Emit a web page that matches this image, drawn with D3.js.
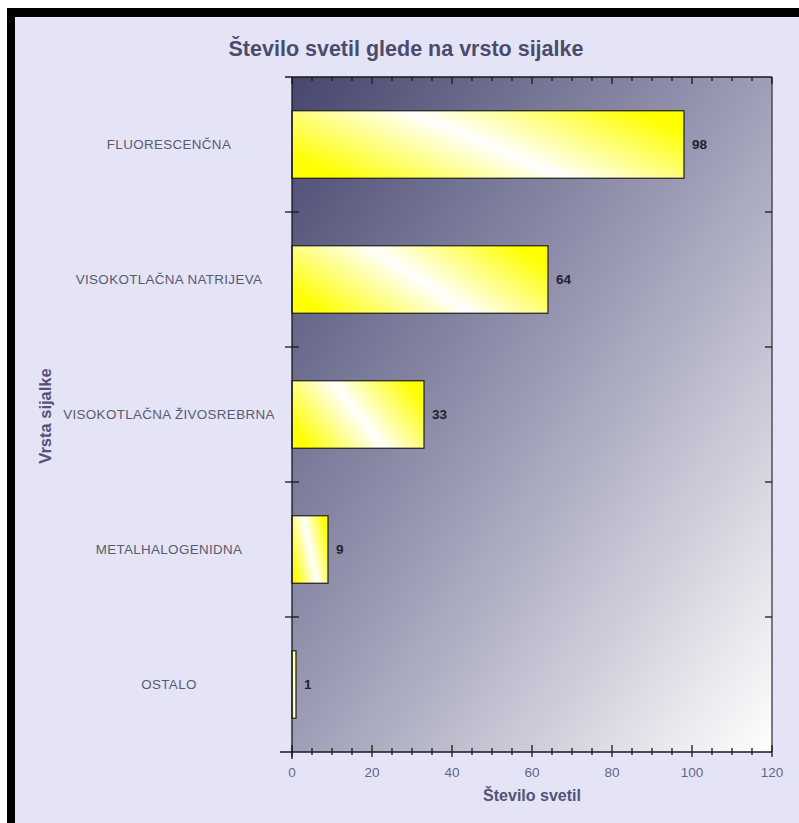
<!DOCTYPE html>
<html>
<head>
<meta charset="utf-8">
<script src="https://cdn.jsdelivr.net/npm/d3@7"></script>
<style>
  html, body { margin: 0; padding: 0; background: #ffffff; }
  svg { display: block; }
  text { font-family: "Liberation Sans", Arial, sans-serif; }
</style>
</head>
<body>
<div id="chart"></div>
<script>
// Lamp types and the number of luminaires of each type
const categories = ["FLUORESCENČNA", "VISOKOTLAČNA NATRIJEVA", "VISOKOTLAČNA ŽIVOSREBRNA", "METALHALOGENIDNA", "OSTALO"];
const values = [98, 64, 33, 9, 1];
const xTickValues = [0, 20, 40, 60, 80, 100, 120];
const titleText = "Število svetil glede na vrsto sijalke";
const xTitle = "Število svetil";
const yTitle = "Vrsta sijalke";

const W = 799, H = 823;
const plot = { left: 292, right: 772, top: 77, bottom: 752 };

const svg = d3.select("#chart").append("svg")
  .attr("width", W).attr("height", H);

const defs = svg.append("defs");

// diagonal dark-to-white fill behind the bars
const bgGrad = defs.append("linearGradient")
  .attr("id", "plotBg")
  .attr("x1", 0).attr("y1", 0).attr("x2", 1).attr("y2", 1);
bgGrad.append("stop").attr("offset", 0).attr("stop-color", "#46466f");
bgGrad.append("stop").attr("offset", 0.5).attr("stop-color", "#9e9eb7");
bgGrad.append("stop").attr("offset", 1).attr("stop-color", "#ffffff");

// glossy yellow bar fill with a slanted white highlight
const barGrad = defs.append("linearGradient")
  .attr("id", "barFill")
  .attr("x1", 0).attr("y1", 0.7).attr("x2", 1).attr("y2", 0.3);
barGrad.append("stop").attr("offset", 0).attr("stop-color", "#ffff00");
barGrad.append("stop").attr("offset", 0.5).attr("stop-color", "#ffffff");
barGrad.append("stop").attr("offset", 1).attr("stop-color", "#ffff00");

// page frame
svg.append("rect").attr("x", 7).attr("y", 8).attr("width", W - 7).attr("height", H - 8)
  .attr("fill", "#000000");
svg.append("rect").attr("x", 15).attr("y", 17).attr("width", W - 15).attr("height", H - 17)
  .attr("fill", "#e4e4f6");

const x = d3.scaleLinear().domain([0, 120]).range([plot.left, plot.right]);
const y = d3.scaleBand().domain(categories).range([plot.top, plot.bottom])
  .paddingInner(0.5).paddingOuter(0.25);

// plot area
svg.append("rect")
  .attr("x", plot.left).attr("y", plot.top)
  .attr("width", plot.right - plot.left).attr("height", plot.bottom - plot.top)
  .attr("fill", "url(#plotBg)");

// bars
svg.append("g").selectAll("rect")
  .data(values)
  .join("rect")
  .attr("x", x(0))
  .attr("y", (d, i) => y(categories[i]))
  .attr("width", d => x(d) - x(0))
  .attr("height", y.bandwidth())
  .attr("fill", "url(#barFill)")
  .attr("stroke", "#1e1e1e")
  .attr("stroke-width", 1.2);

// value labels
svg.append("g").selectAll("text")
  .data(values)
  .join("text")
  .attr("x", d => x(d) + 8)
  .attr("y", (d, i) => y(categories[i]) + y.bandwidth() / 2)
  .attr("dy", "0.35em")
  .attr("font-size", 13.5)
  .attr("font-weight", "bold")
  .attr("fill", "#22222e")
  .text(d => d);

// frame lines and ticks
const axisColor = "#1a1a1a";
const lines = svg.append("g").attr("stroke", axisColor).attr("stroke-width", 1.3);
lines.append("line").attr("x1", plot.left).attr("x2", plot.left).attr("y1", plot.top).attr("y2", plot.bottom + 7);
lines.append("line").attr("x1", 280).attr("x2", plot.right).attr("y1", plot.bottom).attr("y2", plot.bottom);
lines.append("line").attr("x1", 285).attr("x2", plot.right).attr("y1", plot.top).attr("y2", plot.top);
lines.append("line").attr("x1", plot.right).attr("x2", plot.right).attr("y1", plot.top).attr("y2", plot.bottom)
  .attr("stroke", "#3a3a44");

const minorTicks = d3.range(0, 121, 5).filter(v => v % 20 !== 0);
// bottom ticks
lines.append("g").selectAll("line").data(xTickValues).join("line")
  .attr("x1", d => x(d)).attr("x2", d => x(d))
  .attr("y1", plot.bottom - 7).attr("y2", plot.bottom + 5);
lines.append("g").selectAll("line").data(minorTicks).join("line")
  .attr("x1", d => x(d)).attr("x2", d => x(d))
  .attr("y1", plot.bottom - 4).attr("y2", plot.bottom + 3);
// top ticks
lines.append("g").selectAll("line").data(xTickValues).join("line")
  .attr("x1", d => x(d)).attr("x2", d => x(d))
  .attr("y1", plot.top).attr("y2", plot.top + 7);
lines.append("g").selectAll("line").data(minorTicks).join("line")
  .attr("x1", d => x(d)).attr("x2", d => x(d))
  .attr("y1", plot.top).attr("y2", plot.top + 4);

// category boundary ticks
const bounds = categories.slice(1).map(c => y(c) - y.step() * y.paddingInner() / 2);
lines.append("g").selectAll("line").data(bounds).join("line")
  .attr("x1", plot.left - 7).attr("x2", plot.left + 7)
  .attr("y1", d => d).attr("y2", d => d);
lines.append("g").selectAll("line").data(bounds).join("line")
  .attr("x1", plot.right - 7).attr("x2", plot.right)
  .attr("y1", d => d).attr("y2", d => d);

// x tick labels
svg.append("g").selectAll("text").data(xTickValues).join("text")
  .attr("x", d => x(d)).attr("y", 777)
  .attr("text-anchor", "middle")
  .attr("font-size", 13.5)
  .attr("fill", "#646488")
  .text(d => d);

// category labels
svg.append("g").selectAll("text").data(categories).join("text")
  .attr("x", 169)
  .attr("y", d => y(d) + y.bandwidth() / 2)
  .attr("dy", "0.35em")
  .attr("text-anchor", "middle")
  .attr("font-size", 13.4)
  .attr("letter-spacing", 0.35)
  .attr("fill", "#5a5a6e")
  .text(d => d);

// titles
svg.append("text")
  .attr("x", 406).attr("y", 56)
  .attr("text-anchor", "middle")
  .attr("font-size", 21.5)
  .attr("font-weight", "bold")
  .attr("fill", "#4b4b6e")
  .text(titleText);

svg.append("text")
  .attr("x", (plot.left + plot.right) / 2).attr("y", 801)
  .attr("text-anchor", "middle")
  .attr("font-size", 16)
  .attr("font-weight", "bold")
  .attr("fill", "#535378")
  .text(xTitle);

svg.append("text")
  .attr("transform", "translate(51,416) rotate(-90)")
  .attr("text-anchor", "middle")
  .attr("font-size", 16.5)
  .attr("font-weight", "bold")
  .attr("fill", "#535378")
  .text(yTitle);
</script>
</body>
</html>
